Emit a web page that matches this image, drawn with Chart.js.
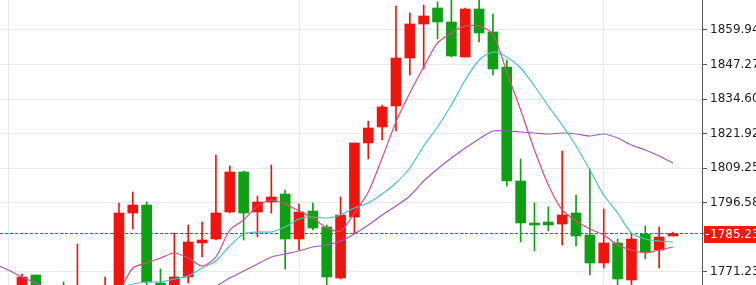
<!DOCTYPE html>
<html>
<head>
<meta charset="utf-8">
<script src="https://cdn.jsdelivr.net/npm/chart.js@4.4.0/dist/chart.umd.min.js"></script>
<style>
html, body { margin:0; padding:0; background:#fff; overflow:hidden; }
#wrap { position:absolute; left:0; top:-30px; width:756px; height:345px; }
</style>
</head>
<body>
<div id="wrap"><canvas id="chart" width="756" height="345"></canvas></div>
<script>
// ======================
// DATA (one candle per entry, oldest first)
// ======================

const opens = [
1762.00,1764.52,1760.85,1770.02,1760.12,1765.62,1761.58,1764.52,1760.85,1763.79,
1792.77,1795.71,1767.09,1764.52,1769.29,1781.77,1783.24,1793.14,1807.82,1793.14,
1796.81,1799.75,1783.24,1793.51,1787.64,1768.92,1791.31,1818.47,1824.34,1832.05,
1849.66,1862.14,1868.01,1862.88,1850.03,1867.65,1859.21,1846.36,1804.52,1789.11,
1789.47,1788.74,1792.77,1784.70,1774.43,1781.77,1768.19,1785.07,1779.20,1784.34
];

const highs = [
1764.00,1765.25,1770.39,1770.02,1765.25,1767.46,1781.40,1765.25,1769.29,1796.45,
1800.48,1796.81,1772.23,1785.44,1788.37,1789.47,1814.06,1810.02,1808.19,1799.02,
1810.39,1801.22,1796.08,1796.45,1788.37,1798.65,1818.47,1826.54,1832.42,1868.75,
1866.18,1869.11,1870.22,1872.79,1868.01,1872.05,1865.81,1848.93,1812.59,1796.45,
1794.98,1815.53,1799.38,1808.92,1794.24,1783.24,1785.44,1788.01,1787.64,1785.80
];

const lows = [
1758.00,1759.01,1759.01,1760.12,1758.65,1760.85,1760.12,1758.65,1759.38,1761.58,
1786.90,1764.52,1762.32,1763.05,1767.09,1776.63,1782.87,1792.77,1782.87,1783.97,
1792.77,1772.23,1779.20,1786.54,1765.62,1768.56,1785.44,1812.59,1819.57,1822.87,
1843.43,1845.63,1856.64,1850.03,1850.03,1855.54,1843.43,1802.68,1782.14,1778.83,
1786.17,1781.03,1780.67,1770.02,1772.59,1764.52,1764.52,1775.90,1772.59,1784.34
];

const closes = [
1760.00,1760.85,1769.29,1761.58,1763.79,1761.95,1765.62,1760.85,1765.25,1792.77,
1795.71,1767.46,1763.79,1769.29,1782.14,1782.87,1792.77,1807.82,1792.77,1796.81,
1798.65,1783.24,1793.14,1787.27,1769.29,1792.04,1818.47,1823.97,1831.68,1849.66,
1862.14,1865.08,1862.88,1850.40,1867.65,1858.84,1845.63,1804.52,1789.11,1788.37,
1788.37,1792.04,1784.34,1774.43,1781.77,1768.56,1783.24,1778.47,1783.97,1785.23
];

const maFast = [
1760.50,1760.85,1761.58,1761.95,1762.32,1762.32,1762.68,1763.05,1763.42,1764.52,
1772.59,1774.43,1776.26,1778.10,1776.26,1773.33,1776.63,1786.54,1790.21,1795.35,
1797.55,1796.08,1793.51,1790.94,1787.27,1786.17,1792.78,1800.49,1812.96,1826.18,
1836.82,1846.36,1855.17,1858.84,1861.41,1861.41,1858.47,1844.53,1830.58,1815.90,
1803.05,1793.88,1789.84,1786.91,1784.70,1781.03,1779.20,1778.10,1779.20,1780.30
];

const maMid = [
1760.50,1760.85,1760.85,1761.22,1761.58,1761.95,1762.32,1763.05,1763.79,1765.25,
1766.72,1767.46,1767.46,1768.56,1769.66,1772.59,1775.16,1780.67,1785.07,1785.81,
1785.81,1787.64,1790.58,1791.31,1790.94,1792.04,1794.61,1796.45,1799.75,1803.79,
1809.29,1817.37,1824.34,1832.41,1841.59,1848.93,1851.87,1850.03,1845.99,1839.39,
1832.05,1825.07,1817.37,1808.56,1799.38,1792.78,1785.44,1783.24,1782.50,1782.14
];

const maSlow = [
1774.06,1771.86,1769.29,1767.09,1764.89,1763.42,1762.68,1762.32,1761.95,1761.95,
1762.32,1762.68,1763.05,1763.79,1764.52,1765.25,1765.99,1768.92,1771.49,1774.06,
1776.63,1777.73,1778.83,1780.30,1781.03,1782.50,1785.07,1788.37,1792.04,1795.35,
1799.02,1804.52,1808.93,1812.96,1816.63,1819.94,1822.87,1822.87,1822.51,1822.14,
1821.77,1822.14,1821.77,1821.04,1821.77,1820.30,1817.73,1815.90,1813.70,1811.13
];

const yTicks = [1771.23, 1796.58, 1809.25, 1821.92, 1834.60, 1847.27, 1859.94, 1872.61];

// candles that carry a vertical separator line
const gridCandles = [1, 22, 44];

const lastPrice = 1785.23;

// visible window of the chart
const viewMin = 1755.34;
const viewMax = 1881.96;
const xMin = 0.412;
const xMax = 51.094;

// ======================
// COLORS
// ======================

const upColor = "#f0140e";
const downColor = "#0e9f12";

const candleColors =
closes.map((c,i) => c >= opens[i] ? upColor : downColor);

// ======================
// PRICE LINE + LABEL
// ======================

const priceLine = {
    id: "priceLine",
    beforeDatasetsDraw(chart){
        const {ctx, chartArea, scales} = chart;
        const y = Math.round(scales.y.getPixelForValue(lastPrice)) - 1;
        ctx.save();
        ctx.fillStyle = "#f22418";
        for(let x = chartArea.left; x < chartArea.right; x += 5){
            ctx.fillRect(x, y, 3, 1);
        }
        ctx.restore();
    },
    afterDraw(chart){
        const {ctx, chartArea, scales} = chart;
        const y = Math.round(scales.y.getPixelForValue(lastPrice));
        const x = chartArea.right + 2;
        ctx.save();
        ctx.fillStyle = "#f01a12";
        ctx.fillRect(x, y - 8, 60, 17);
        ctx.fillStyle = "#ffffff";
        ctx.fillRect(x + 1, y, 4, 1);
        ctx.font = "12px 'DejaVu Sans'";
        ctx.textBaseline = "middle";
        ctx.textAlign = "left";
        ctx.fillText(lastPrice.toFixed(2), chartArea.right + 8, y + 1);
        ctx.restore();
    }
};

// ======================
// CHART
// ======================

const lineSet = (data, color) => ({
    type: "line",
    data: data.map((v,i) => ({x: i, y: v})),
    borderColor: color,
    borderWidth: 1.2,
    pointRadius: 0,
    tension: 0.25,
    fill: false,
    order: 0
});

new Chart(
document.getElementById("chart"),
{
    type: "bar",
    data: {
        datasets: [
            lineSet(maFast, "#e2487e"),
            lineSet(maMid, "#45c4d2"),
            lineSet(maSlow, "#a257c6"),
            {
                data: opens.map((o,i) => ({x: i, y: [o, closes[i]]})),
                backgroundColor: candleColors,
                barThickness: 10,
                minBarLength: 1.5,
                grouped: false,
                borderWidth: 0,
                order: 1
            },
            {
                data: lows.map((l,i) => ({x: i, y: [l, highs[i]]})),
                backgroundColor: candleColors,
                barThickness: 1,
                grouped: false,
                borderWidth: 0,
                order: 2
            }
        ]
    },
    options: {
        responsive: false,
        animation: false,
        devicePixelRatio: 1,
        events: [],
        layout: { padding: 0 },
        plugins: {
            legend: { display: false },
            tooltip: { enabled: false }
        },
        scales: {
            x: {
                type: "linear",
                min: xMin,
                max: xMax,
                offset: false,
                afterBuildTicks: s => { s.ticks = gridCandles.map(v => ({value: v})); },
                ticks: { display: false },
                grid: { color: "#e6eaef", drawTicks: false, offset: false },
                border: { display: false }
            },
            y: {
                position: "right",
                min: viewMin,
                max: viewMax,
                afterBuildTicks: s => { s.ticks = yTicks.map(v => ({value: v})); },
                afterFit: s => {
                    s.width = 54;
                    s.paddingTop = 0;
                    s.paddingBottom = 0;
                },
                ticks: {
                    color: "#222",
                    padding: 3,
                    font: { family: "DejaVu Sans", size: 12 },
                    callback: v => v.toFixed(2)
                },
                grid: { color: "#e6eaef", tickColor: "#555", tickLength: 5 },
                border: { color: "#555" }
            }
        }
    },
    plugins: [priceLine]
}
);
</script>
</body>
</html>
